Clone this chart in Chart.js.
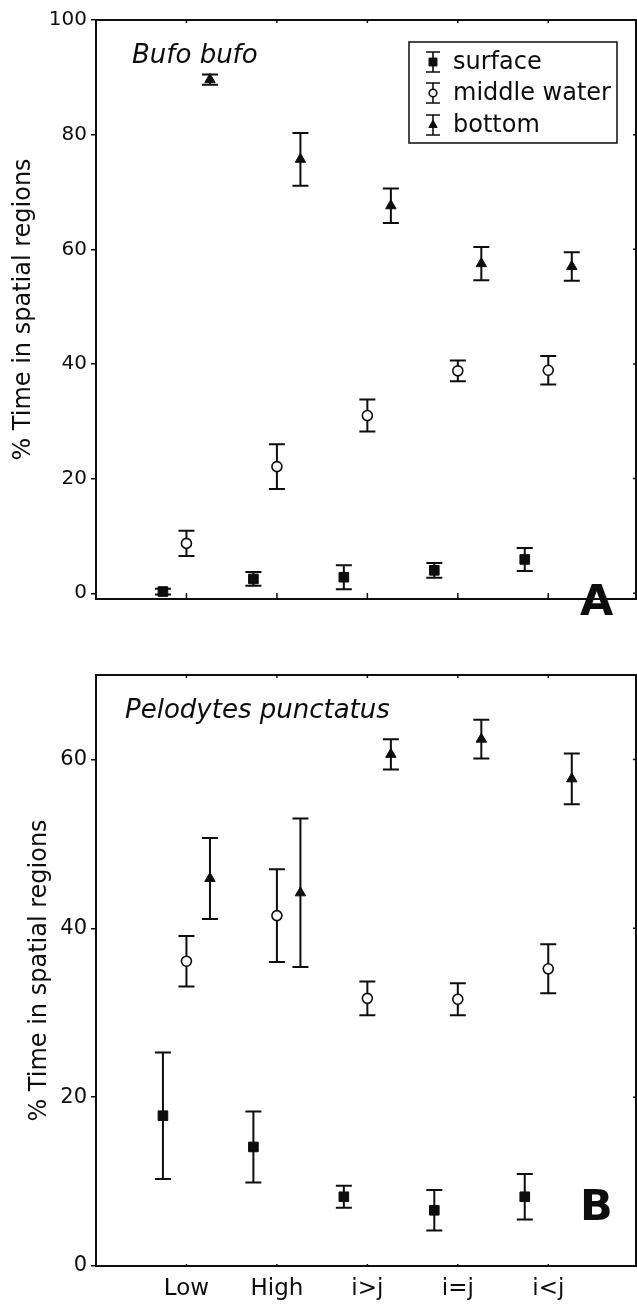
<!DOCTYPE html>
<html>
<head>
<meta charset="utf-8">
<script src="https://cdn.jsdelivr.net/npm/chart.js@4.4.1/dist/chart.umd.min.js"></script>
<style>
  body { margin: 0; background: #fff; }
  #wrap { position: relative; width: 637px; height: 1306px; }
  canvas { position: absolute; left: 0; }
  #chartA { top: 0; }
  #chartB { top: 655px; }
</style>
</head>
<body>
<div id="wrap">
  <canvas id="chartA" width="637" height="655"></canvas>
  <canvas id="chartB" width="637" height="651"></canvas>
</div>
<script>
/* % time in spatial regions, mean +- error */
const categories = ['Low', 'High', 'i>j', 'i=j', 'i<j'];
const seriesNames = ['surface', 'middle water', 'bottom'];

// Bufo bufo (A)
const bufoSurface    = [0.3, 2.5, 2.8, 4.0, 5.9];
const bufoSurfaceErr = [0.5, 1.2, 2.1, 1.3, 2.0];
const bufoMiddle     = [8.7, 22.1, 31.0, 38.8, 38.9];
const bufoMiddleErr  = [2.2, 3.9, 2.8, 1.8, 2.5];
const bufoBottom     = [89.6, 75.7, 67.6, 57.5, 57.0];
const bufoBottomErr  = [0.9, 4.6, 3.0, 2.9, 2.5];

// Pelodytes punctatus (B)
const peloSurface    = [17.8, 14.1, 8.2, 6.6, 8.2];
const peloSurfaceErr = [7.5, 4.2, 1.3, 2.4, 2.7];
const peloMiddle     = [36.1, 41.5, 31.7, 31.6, 35.2];
const peloMiddleErr  = [3.0, 5.5, 2.0, 1.9, 2.9];
const peloBottom     = [45.9, 44.2, 60.6, 62.4, 57.7];
const peloBottomErr  = [4.8, 8.8, 1.8, 2.3, 3.0];

const yTicksA = [0, 20, 40, 60, 80, 100];
const yTicksB = [0, 20, 40, 60];

const INK = '#0d0d0d';
const FONT = '"DejaVu Sans", sans-serif';
const CAP = 8;
// side-by-side shift of the three series within a category
const shift = [-0.26, 0, 0.26];
const styles = [
  { pointStyle: 'rect', pointRadius: 6.8, backgroundColor: INK, borderColor: INK, borderWidth: 1 },
  { pointStyle: 'circle', pointRadius: 5, backgroundColor: '#fff', borderColor: INK, borderWidth: 1.6 },
  { pointStyle: 'triangle', pointRadius: 6, backgroundColor: INK, borderColor: INK, borderWidth: 1 }
];

const toPoints = (vals, off) => vals.map((v, i) => ({ x: i + 1 + off, y: v }));

function makeDatasets(means, errs) {
  return means.map((m, s) => Object.assign({
    label: seriesNames[s],
    data: toPoints(m, shift[s]),
    errors: errs[s],
    showLine: false,
    pointHoverRadius: 6
  }, styles[s]));
}

const errorBars = {
  id: 'errorBars',
  beforeDatasetsDraw(chart) {
    const ctx = chart.ctx, ys = chart.scales.y;
    ctx.save();
    ctx.strokeStyle = INK; ctx.lineWidth = 2;
    chart.data.datasets.forEach((ds, d) => {
      const meta = chart.getDatasetMeta(d);
      ds.data.forEach((p, i) => {
        const x = meta.data[i].x;
        const y1 = ys.getPixelForValue(p.y + ds.errors[i]);
        const y2 = ys.getPixelForValue(p.y - ds.errors[i]);
        ctx.beginPath();
        ctx.moveTo(x, y1); ctx.lineTo(x, y2);
        ctx.moveTo(x - CAP, y1); ctx.lineTo(x + CAP, y1);
        ctx.moveTo(x - CAP, y2); ctx.lineTo(x + CAP, y2);
        ctx.stroke();
      });
    });
    ctx.restore();
  }
};

function framePlugin(cfg) {
  return {
    id: 'frame',
    afterDraw(chart) {
      const { ctx, chartArea: a, scales } = chart;
      ctx.save();
      ctx.strokeStyle = INK; ctx.lineWidth = 2;
      ctx.strokeRect(a.left, a.top, a.right - a.left, a.bottom - a.top);
      ctx.lineWidth = 1.5;
      ctx.beginPath();
      categories.forEach((c, i) => {
        const x = scales.x.getPixelForValue(i + 1);
        ctx.moveTo(x, a.top); ctx.lineTo(x, a.top + 3);
        ctx.moveTo(x, a.bottom); ctx.lineTo(x, a.bottom - cfg.bottomTick);
      });
      cfg.yTicks.forEach(v => {
        const y = scales.y.getPixelForValue(v);
        ctx.moveTo(a.right, y); ctx.lineTo(a.right - 3, y);
      });
      ctx.stroke();

      ctx.fillStyle = INK;
      ctx.textBaseline = 'alphabetic';
      ctx.textAlign = 'left';
      ctx.font = 'italic 26px ' + FONT;
      ctx.fillText(cfg.species, cfg.speciesX, cfg.speciesY);
      ctx.font = 'bold 43px ' + FONT;
      ctx.fillText(cfg.letter, cfg.letterX, cfg.letterY);

      if (cfg.legend) {
        const L = cfg.legend;
        ctx.lineWidth = 1.5;
        ctx.strokeRect(L.x, L.y, L.w, L.h);
        ctx.font = '24px ' + FONT;
        ctx.textBaseline = 'middle';
        chart.data.datasets.forEach((ds, i) => {
          const cy = L.rowY[i], cx = L.symX;
          ctx.strokeStyle = INK; ctx.lineWidth = 1.6;
          ctx.beginPath();
          ctx.moveTo(cx, cy - 10); ctx.lineTo(cx, cy + 10);
          ctx.moveTo(cx - 7, cy - 10); ctx.lineTo(cx + 7, cy - 10);
          ctx.moveTo(cx - 7, cy + 10); ctx.lineTo(cx + 7, cy + 10);
          ctx.stroke();
          ctx.fillStyle = ds.backgroundColor;
          ctx.strokeStyle = ds.borderColor;
          ctx.lineWidth = ds.borderWidth;
          Chart.helpers.drawPoint(ctx, { pointStyle: ds.pointStyle, radius: ds.pointRadius - 1.2, rotation: 0, borderWidth: ds.borderWidth }, cx, cy);
          ctx.fillStyle = INK;
          ctx.fillText(ds.label, L.textX, cy + 1);
        });
      }
      ctx.restore();
    }
  };
}

function makeChart(id, datasets, opt) {
  return new Chart(document.getElementById(id), {
    type: 'scatter',
    data: { datasets },
    options: {
      responsive: false,
      animation: false,
      layout: { padding: opt.padding, autoPadding: false },
      plugins: { legend: { display: false }, tooltip: { enabled: false } },
      scales: {
        x: {
          type: 'linear', min: 0, max: 5.97,
          display: opt.xLabels,
          afterBuildTicks: s => { s.ticks = categories.map((c, i) => ({ value: i + 1 })); },
          afterFit: s => { s.height = 40; },
          ticks: { color: INK, font: { family: FONT, size: 23 }, padding: 9,
                   callback: v => categories[v - 1] },
          grid: { display: false, drawTicks: false },
          border: { display: false }
        },
        y: {
          min: opt.yMin, max: opt.yMax,
          afterBuildTicks: s => { s.ticks = opt.yTicks.map(v => ({ value: v })); },
          afterFit: s => { s.width = 96; },
          ticks: { color: INK, font: { family: FONT, size: opt.tickSize }, padding: 4 },
          grid: { drawOnChartArea: false, color: INK, lineWidth: 1.5, tickLength: 5 },
          border: { display: false },
          title: { display: true, text: '% Time in spatial regions', color: INK,
                   font: { family: FONT, size: 24 }, padding: { top: opt.titlePad, bottom: 0 } }
        }
      }
    },
    plugins: [errorBars, framePlugin(opt.frame)]
  });
}

makeChart('chartA',
  makeDatasets([bufoSurface, bufoMiddle, bufoBottom], [bufoSurfaceErr, bufoMiddleErr, bufoBottomErr]),
  {
    padding: { top: 20, right: 1, bottom: 16, left: 0 },
    xLabels: false, yMin: -1, yMax: 100, yTicks: yTicksA, tickSize: 20, titlePad: 9,
    frame: {
      yTicks: yTicksA, bottomTick: 6,
      species: 'Bufo bufo', speciesX: 132, speciesY: 63,
      letter: 'A', letterX: 580, letterY: 615,
      legend: { x: 409, y: 42, w: 208, h: 101, symX: 433, textX: 453, rowY: [62, 93, 125] }
    }
  });

makeChart('chartB',
  makeDatasets([peloSurface, peloMiddle, peloBottom], [peloSurfaceErr, peloMiddleErr, peloBottomErr]),
  {
    padding: { top: 20, right: 1, bottom: 0, left: 0 },
    xLabels: true, yMin: 0, yMax: 70, yTicks: yTicksB, tickSize: 21, titlePad: 25,
    frame: {
      yTicks: yTicksB, bottomTick: 2,
      species: 'Pelodytes punctatus', speciesX: 125, speciesY: 63,
      letter: 'B', letterX: 580, letterY: 565
    }
  });
</script>
</body>
</html>
